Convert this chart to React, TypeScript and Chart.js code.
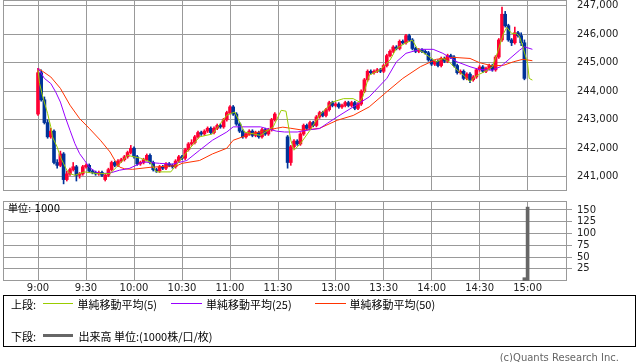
import { useEffect, useRef } from "react";
import { Chart, registerables } from "chart.js";

Chart.register(...registerables);

// ---------- data ----------
const xTickLabels = ["9:00", "9:30", "10:00", "10:30", "11:00", "11:30", "13:00", "13:30", "14:00", "14:30", "15:00"];
const priceTicks = [241000, 242000, 243000, 244000, 245000, 246000, 247000];
const volumeTicks = [25, 50, 75, 100, 125, 150];

function sessionTimes(start: string, count: number, step: number): string[] {
  const [h, m] = start.split(":").map(Number);
  const base = h * 60 + m;
  const out: string[] = [];
  for (let i = 0; i < count; i++) {
    const t = base + i * step;
    out.push(`${Math.floor(t / 60)}:${String(t % 60).padStart(2, "0")}`);
  }
  return out;
}

const candleTimes = [...sessionTimes("9:00", 75, 2), ...sessionTimes("12:30", 75, 2)];

const opens = [
  243200, 244650, 243700, 242900, 242400, 242600, 241500, 241400, 241800, 240900,
  241100, 241250, 241350, 241050, 241100, 241350, 241400, 241200, 241150, 241100,
  241150, 240900, 241050, 241250, 241500, 241400, 241550, 241600, 241700, 241850,
  242000, 241700, 241450, 241500, 241600, 241750, 241500, 241250, 241200, 241350,
  241300, 241450, 241400, 241350, 241550, 241700, 241650, 241950, 242150, 242200,
  242400, 242550, 242500, 242600, 242700, 242550, 242700, 242800, 242750, 243000,
  243250, 243450, 243200, 242850, 242600, 242400, 242500, 242600, 242450, 242550,
  242400, 242650, 242500, 242650, 243000,
  242400, 241500, 242050, 242250, 242150, 242500, 242800, 242700, 242900, 242800,
  243100, 243250, 243150, 243350, 243600, 243500, 243550, 243450, 243500, 243600,
  243500, 243600, 243400, 243550, 244000, 244400, 244700, 244650, 244700, 244750,
  244700, 244900, 245250, 245400, 245550, 245500, 245750, 245700, 245950, 245800,
  245500, 245400, 245450, 245400, 245350, 245100, 244950, 245050, 244900, 245150,
  245050, 245250, 245200, 244900, 244650, 244700, 244450, 244600, 244400, 244500,
  244750, 244850, 244700, 244800, 244900, 244750, 245200, 245800, 246700, 246300,
  245800, 245700, 246050, 245950, 245700,
];
const highs = [
  244800, 244750, 243800, 243000, 242700, 242650, 241600, 241900, 241850, 241200,
  241300, 241500, 241400, 241150, 241400, 241450, 241450, 241250, 241200, 241200,
  241200, 241100, 241300, 241550, 241550, 241600, 241650, 241750, 241900, 242100,
  242050, 241750, 241550, 241650, 241800, 241800, 241550, 241300, 241400, 241400,
  241500, 241500, 241450, 241600, 241750, 241750, 242000, 242200, 242300, 242450,
  242600, 242600, 242650, 242750, 242750, 242750, 242850, 242850, 243050, 243300,
  243500, 243500, 243250, 242900, 242650, 242550, 242650, 242650, 242600, 242600,
  242700, 242700, 242700, 243050, 243250,
  242450, 242100, 242300, 242300, 242550, 242850, 242850, 242950, 242950, 243150,
  243300, 243300, 243400, 243650, 243650, 243600, 243600, 243550, 243650, 243650,
  243650, 243650, 243600, 244050, 244450, 244750, 244750, 244750, 244800, 244800,
  244950, 245300, 245450, 245600, 245600, 245800, 245800, 246000, 246000, 245850,
  245550, 245500, 245500, 245450, 245400, 245150, 245100, 245100, 245200, 245200,
  245300, 245300, 245250, 244950, 244750, 244750, 244650, 244650, 244550, 244800,
  244900, 244900, 244850, 244950, 244950, 245250, 245850, 246950, 246800, 246350,
  245850, 246250, 246100, 246050, 245800,
];
const lows = [
  243150, 243650, 242850, 242350, 242350, 241450, 241300, 241350, 240750, 240850,
  241050, 241200, 240850, 240950, 241050, 241300, 241150, 241100, 241050, 241050,
  241000, 240850, 241000, 241200, 241350, 241350, 241500, 241550, 241650, 241800,
  241650, 241400, 241400, 241450, 241550, 241450, 241200, 241150, 241150, 241250,
  241250, 241350, 241300, 241300, 241500, 241600, 241600, 241900, 242100, 242150,
  242350, 242450, 242450, 242550, 242500, 242500, 242650, 242700, 242700, 242950,
  243200, 243150, 242800, 242550, 242350, 242350, 242450, 242400, 242400, 242350,
  242350, 242450, 242450, 242600, 242950,
  241300, 241400, 242000, 242100, 242100, 242450, 242650, 242650, 242750, 242750,
  243050, 243100, 243100, 243300, 243450, 243450, 243400, 243400, 243450, 243450,
  243450, 243350, 243350, 243500, 243950, 244350, 244600, 244600, 244650, 244650,
  244650, 244850, 245200, 245350, 245450, 245450, 245650, 245650, 245750, 245450,
  245350, 245350, 245350, 245300, 245050, 244900, 244900, 244850, 244850, 245000,
  245000, 245150, 244850, 244600, 244600, 244400, 244400, 244300, 244350, 244450,
  244700, 244650, 244650, 244750, 244700, 244700, 245150, 245750, 246250, 245750,
  245600, 245650, 245900, 245600, 244400,
];
const closes = [
  244650, 243700, 242900, 242400, 242600, 241500, 241400, 241800, 240900, 241100,
  241250, 241350, 241050, 241100, 241350, 241400, 241200, 241150, 241100, 241150,
  241050, 241050, 241250, 241500, 241400, 241550, 241600, 241700, 241850, 242000,
  241700, 241450, 241500, 241600, 241750, 241500, 241250, 241200, 241350, 241300,
  241450, 241400, 241350, 241550, 241700, 241650, 241950, 242150, 242200, 242400,
  242550, 242500, 242600, 242700, 242550, 242700, 242800, 242750, 243000, 243250,
  243450, 243200, 242850, 242600, 242400, 242500, 242600, 242450, 242550, 242400,
  242650, 242500, 242650, 243000, 243200,
  241500, 242050, 242250, 242150, 242500, 242800, 242700, 242900, 242800, 243100,
  243250, 243150, 243350, 243600, 243500, 243550, 243450, 243500, 243600, 243500,
  243600, 243400, 243550, 244000, 244400, 244700, 244650, 244700, 244750, 244700,
  244900, 245250, 245400, 245550, 245500, 245750, 245700, 245950, 245800, 245500,
  245400, 245450, 245400, 245350, 245100, 244950, 245050, 244900, 245150, 245050,
  245250, 245200, 244900, 244650, 244700, 244450, 244600, 244400, 244500, 244750,
  244850, 244700, 244800, 244900, 244750, 245200, 245800, 246700, 246300, 245800,
  245700, 246050, 245950, 245700, 244450,
];

const ma5Times = ["9:00", "9:01", "9:03", "9:06", "9:08", "9:09", "9:12", "9:14", "9:16", "9:18", "9:20", "9:23", "9:29", "9:37", "9:45", "9:49", "9:56", "10:04", "10:10", "10:14", "10:23", "10:27", "10:35", "10:41", "10:49", "10:58", "11:03", "11:09", "11:19", "11:27", "11:32", "11:35", "12:32", "12:34", "12:38", "12:44", "12:50", "12:58", "13:05", "13:11", "13:15", "13:17", "13:21", "13:28", "13:34", "13:38", "13:44", "13:48", "13:51", "13:57", "14:03", "14:07", "14:11", "14:16", "14:20", "14:24", "14:27", "14:30", "14:35", "14:38", "14:41", "14:45", "14:47", "14:50", "14:53", "14:55", "14:57", "15:00", "15:01", "15:03"];
const ma5Values = [244740, 244270, 243800, 243220, 242750, 242400, 242040, 241690, 241460, 241230, 241110, 241050, 241170, 241110, 241110, 241330, 241750, 241650, 241520, 241170, 241170, 241450, 242000, 242400, 242500, 243160, 243270, 242570, 242450, 242750, 243330, 243300, 242280, 241930, 242160, 242630, 243160, 243620, 243740, 243740, 243620, 243800, 244560, 244760, 245090, 245500, 245700, 245790, 245500, 245270, 245030, 245150, 245030, 244740, 244560, 244330, 244500, 244600, 244740, 244860, 245330, 246030, 246240, 246030, 246030, 245910, 245560, 244970, 244450, 244390];

const ma25Times = ["9:00", "9:04", "9:08", "9:11", "9:14", "9:17", "9:20", "9:23", "9:26", "9:29", "9:32", "9:36", "9:39", "9:45", "9:51", "9:57", "10:06", "10:16", "10:24", "10:33", "10:41", "10:49", "10:58", "11:02", "11:19", "11:23", "11:29", "11:34", "12:36", "12:44", "12:50", "12:55", "13:01", "13:11", "13:21", "13:32", "13:38", "13:44", "13:53", "14:01", "14:07", "14:16", "14:24", "14:30", "14:38", "14:43", "14:49", "14:55", "14:58", "15:03"];
const ma25Values = [244810, 244450, 244270, 243980, 243620, 243100, 242630, 242170, 241810, 241580, 241340, 241170, 241110, 241130, 241230, 241290, 241520, 241470, 241440, 241570, 241930, 242280, 242570, 242750, 242750, 242690, 242600, 242570, 242570, 242650, 242690, 242880, 243100, 243450, 243800, 244450, 245030, 245330, 245470, 245470, 245330, 245030, 244860, 244760, 244740, 244860, 245150, 245440, 245560, 245470];

const ma50Times = ["9:00", "9:08", "9:14", "9:20", "9:26", "9:32", "9:39", "9:45", "9:48", "9:51", "9:54", "9:59", "10:10", "10:27", "10:30", "10:41", "10:49", "10:58", "11:02", "11:14", "11:29", "11:33", "12:32", "12:40", "12:50", "13:01", "13:11", "13:21", "13:32", "13:42", "13:53", "14:03", "14:13", "14:24", "14:30", "14:38", "14:45", "14:51", "14:57", "15:03"];
const ma50Values = [244810, 244500, 244100, 243510, 243040, 242700, 242280, 241870, 241580, 241340, 241280, 241260, 241330, 241390, 241470, 241570, 241800, 242000, 242280, 242520, 242700, 242740, 242700, 242630, 242700, 242980, 243150, 243450, 243980, 244450, 244860, 245120, 245190, 245150, 245000, 244890, 244910, 245030, 245120, 245070];

const volumeTimes = ["14:58", "15:00"];
const volumeValues = [6, 156];

// ---------- styling ----------
const GRID = "#999999";
const UP = "#ff0033";
const DOWN = "#003399";
const C_MA5 = "#99cc00";
const C_MA25 = "#9900ff";
const C_MA50 = "#ff3300";
const C_VOL = "#666666";
const AXIS_FONT = { family: "'DejaVu Sans', 'Noto Sans CJK JP', sans-serif", size: 10 };

// trading-minute axis: morning 9:00-11:30, short gap, afternoon 12:30-15:00
function timeToX(t: string): number {
  const [h, m] = t.split(":").map(Number);
  const mins = h * 60 + m - 540;
  return mins <= 156 ? mins : mins - 54;
}
const X_MIN = -21.875;
const X_MAX = 330.625;

const framePlugin = {
  id: "frame",
  beforeDatasetsDraw(chart: any) {
    const { ctx, chartArea: a } = chart;
    ctx.save();
    ctx.strokeStyle = GRID;
    ctx.lineWidth = 1;
    ctx.strokeRect(a.left + 0.5, a.top + 0.5, a.right - a.left - 1, a.bottom - a.top - 1);
    ctx.restore();
  },
};

function xScale(showLabels: boolean, height: number) {
  return {
    type: "linear" as const,
    min: X_MIN,
    max: X_MAX,
    offset: false,
    afterBuildTicks: (s: any) => {
      s.ticks = xTickLabels.map((l) => ({ value: timeToX(l) }));
    },
    afterFit: (s: any) => {
      s.height = height;
      s.paddingLeft = 0;
      s.paddingRight = 0;
      s.paddingTop = 0;
      s.paddingBottom = 0;
    },
    grid: { color: GRID, lineWidth: 1, drawTicks: false, offset: false },
    border: { display: false },
    ticks: {
      display: showLabels,
      autoSkip: false,
      maxRotation: 0,
      padding: 1,
      color: "#222",
      font: AXIS_FONT,
      callback: (_v: any, i: number) => xTickLabels[i],
    },
  };
}

function lineSet(label: string, times: string[], values: number[], color: string, order: number) {
  return {
    type: "line" as const,
    label,
    data: times.map((t, i) => ({ x: timeToX(t), y: values[i] })),
    borderColor: color,
    borderWidth: 1,
    pointRadius: 0,
    tension: 0,
    fill: false,
    order,
  };
}

export default function App() {
  const mainRef = useRef<HTMLCanvasElement>(null);
  const volRef = useRef<HTMLCanvasElement>(null);

  useEffect(() => {
    const cx = candleTimes.map(timeToX);
    const colors = candleTimes.map((_, i) => (closes[i] >= opens[i] ? UP : DOWN));

    const main = new Chart(mainRef.current as HTMLCanvasElement, {
      type: "line",
      data: {
        datasets: [
          lineSet("単純移動平均(5)", ma5Times, ma5Values, C_MA5, 0),
          lineSet("単純移動平均(25)", ma25Times, ma25Values, C_MA25, 1),
          lineSet("単純移動平均(50)", ma50Times, ma50Values, C_MA50, 2),
          {
            type: "bar",
            label: "body",
            data: cx.map((x, i) => ({ x, y: [opens[i], closes[i]] })),
            backgroundColor: colors,
            borderWidth: 0,
            barThickness: 3,
            grouped: false,
            minBarLength: 1,
            order: 3,
          } as any,
          {
            type: "bar",
            label: "wick",
            data: cx.map((x, i) => ({ x, y: [lows[i], highs[i]] })),
            backgroundColor: colors,
            borderWidth: 0,
            barThickness: 1,
            grouped: false,
            order: 4,
          } as any,
        ],
      },
      options: {
        animation: false,
        responsive: false,
        events: [],
        layout: { padding: { left: 3, top: 0, right: 0, bottom: 0 } },
        plugins: { legend: { display: false }, tooltip: { enabled: false } },
        scales: {
          x: xScale(false, 5) as any,
          y: {
            type: "linear",
            position: "right",
            min: 240500,
            max: 247200,
            afterBuildTicks: (s: any) => {
              s.ticks = priceTicks.map((v) => ({ value: v }));
            },
            afterFit: (s: any) => {
              s.width = 71;
              s.paddingTop = 0;
              s.paddingBottom = 0;
            },
            grid: { color: GRID, lineWidth: 1, drawTicks: false },
            border: { display: false },
            ticks: {
              padding: 10,
              color: "#222",
              font: AXIS_FONT,
              callback: (v: any) => Number(v).toLocaleString("en-US"),
            },
          } as any,
        },
      },
      plugins: [framePlugin],
    });

    const vol = new Chart(volRef.current as HTMLCanvasElement, {
      type: "bar",
      data: {
        datasets: [
          {
            label: "出来高",
            data: volumeTimes.map((t, i) => ({ x: timeToX(t), y: volumeValues[i] })),
            backgroundColor: C_VOL,
            borderWidth: 0,
            barThickness: 3,
            grouped: false,
          } as any,
        ],
      },
      options: {
        animation: false,
        responsive: false,
        events: [],
        layout: { padding: { left: 3, top: 5, right: 0, bottom: 0 } },
        plugins: { legend: { display: false }, tooltip: { enabled: false } },
        scales: {
          x: xScale(true, 15) as any,
          y: {
            type: "linear",
            position: "right",
            min: -1,
            max: 169,
            afterBuildTicks: (s: any) => {
              s.ticks = volumeTicks.map((v) => ({ value: v }));
            },
            afterFit: (s: any) => {
              s.width = 71;
              s.paddingTop = 0;
              s.paddingBottom = 0;
            },
            grid: { color: GRID, lineWidth: 1, drawTicks: true, tickLength: 5 },
            border: { display: false },
            ticks: { padding: 5, color: "#222", font: AXIS_FONT },
          } as any,
        },
      },
      plugins: [framePlugin],
    });

    return () => {
      main.destroy();
      vol.destroy();
    };
  }, []);

  const legendFont = "11px 'Noto Sans CJK JP', sans-serif";
  const txt = (left: number, top: number, s: string) => (
    <div style={{ position: "absolute", left, top, font: legendFont, lineHeight: "13px", color: "#000", whiteSpace: "nowrap" }}>{s}</div>
  );
  const bar = (left: number, top: number, width: number, height: number, color: string) => (
    <div style={{ position: "absolute", left, top, width, height, background: color }} />
  );

  return (
    <div style={{ position: "fixed", left: 0, top: 0, width: 638, height: 362, background: "#fff", overflow: "hidden" }}>
      <canvas ref={mainRef} width={638} height={196} style={{ position: "absolute", left: 0, top: 0, width: 638, height: 196 }} />
      <canvas ref={volRef} width={638} height={100} style={{ position: "absolute", left: 0, top: 196, width: 638, height: 100 }} />
      <div style={{ position: "absolute", left: 8, top: 203, font: "10px 'DejaVu Sans', 'Noto Sans CJK JP', sans-serif", lineHeight: "12px", color: "#000", whiteSpace: "nowrap" }}>単位: 1000</div>
      <div style={{ position: "absolute", left: 3, top: 295, width: 633, height: 52, border: "1px solid #000", boxSizing: "border-box" }} />
      {txt(11, 298, "上段:")}
      {bar(43, 303, 30, 1, C_MA5)}
      {txt(77.5, 298, "単純移動平均(5)")}
      {bar(171, 303, 31, 1, C_MA25)}
      {txt(206, 298, "単純移動平均(25)")}
      {bar(315, 303, 31, 1, C_MA50)}
      {txt(349.5, 298, "単純移動平均(50)")}
      {txt(11, 330, "下段:")}
      {bar(43, 334, 30, 3, C_VOL)}
      {txt(78.5, 330, "出来高 単位:(1000株/口/枚)")}
      <div style={{ position: "absolute", right: 19, top: 352, font: "10px 'DejaVu Sans', sans-serif", lineHeight: "12px", color: "#666", whiteSpace: "nowrap" }}>(c)Quants Research Inc.</div>
    </div>
  );
}
